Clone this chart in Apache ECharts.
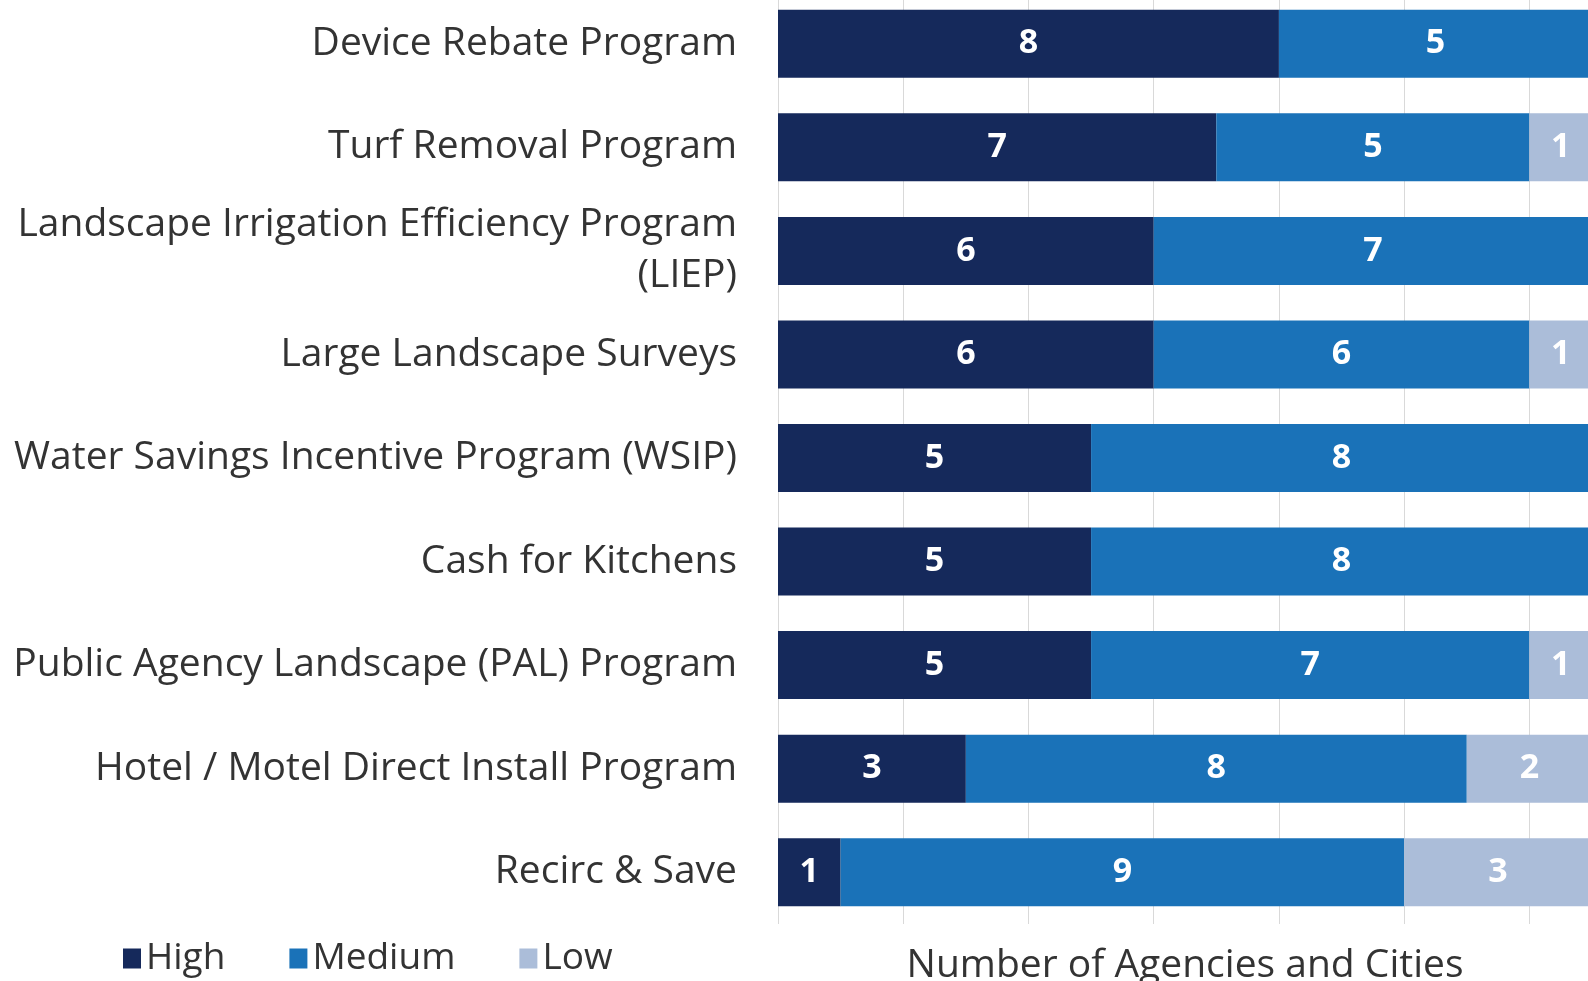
<!DOCTYPE html>
<html>
<head>
<meta charset="utf-8">
<script src="https://cdn.jsdelivr.net/npm/echarts@6/dist/echarts.min.js"></script>
<style>
html, body { margin: 0; padding: 0; background: #fff; }
#chart { width: 1588px; height: 981px; }
</style>
</head>
<body>
<div id="chart"></div>
<script>
// programs, top to bottom
const categories = [
  "Device Rebate Program",
  "Turf Removal Program",
  "Landscape Irrigation Efficiency Program\n(LIEP)",
  "Large Landscape Surveys",
  "Water Savings Incentive Program (WSIP)",
  "Cash for Kitchens",
  "Public Agency Landscape (PAL) Program",
  "Hotel / Motel Direct Install Program",
  "Recirc & Save"
];
const highVals = [8, 7, 6, 6, 5, 5, 5, 3, 1];
const mediumVals = [5, 5, 7, 6, 8, 8, 7, 8, 9];
const lowVals = [0, 1, 0, 1, 0, 0, 1, 2, 3];

const colors = ["#15295b", "#1a72b8", "#abbdd9"];

let myChart = echarts.init(document.getElementById("chart"));

function barSeries(name, data, color) {
  return {
    name: name,
    type: "bar",
    stack: "total",
    data: data,
    barWidth: 68,
    itemStyle: { color: color },
    label: {
      show: true,
      position: "inside",
      color: "#fff",
      fontFamily: "Open Sans",
      fontWeight: "bold",
      fontSize: 34,
      formatter: (p) => (p.value > 0 ? p.value : "")
    }
  };
}

let option = {
  animation: false,
  color: colors,
  textStyle: { fontFamily: "Open Sans" },
  grid: {
    left: 778,
    right: -4,
    top: -8,
    bottom: 57,
    outerBoundsMode: "none"
  },
  legend: {
    left: 118,
    top: 935,
    itemWidth: 18,
    itemHeight: 20,
    itemGap: 64,
    icon: "rect",
    textStyle: { color: "#333", fontSize: 37, fontFamily: "Open Sans", padding: [0, 0, 0, 0] },
    data: ["High", "Medium", "Low"]
  },
  xAxis: {
    type: "value",
    min: 0,
    max: 13,
    interval: 2,
    axisLabel: { show: false },
    axisLine: { show: false },
    axisTick: { show: false },
    splitLine: { show: true, lineStyle: { color: "#d9d9d9", width: 1 } },
    name: "Number of Agencies and Cities",
    nameLocation: "middle",
    nameGap: 22,
    nameTextStyle: { color: "#333", fontSize: 39, fontFamily: "Open Sans" }
  },
  yAxis: {
    type: "category",
    data: categories,
    inverse: true,
    axisLine: { show: false },
    axisTick: { show: false },
    axisLabel: {
      color: "#333",
      fontSize: 39,
      fontFamily: "Open Sans",
      margin: 41,
      align: "right",
      lineHeight: 51
    }
  },
  series: [
    barSeries("High", highVals, colors[0]),
    barSeries("Medium", mediumVals, colors[1]),
    barSeries("Low", lowVals, colors[2])
  ]
};
myChart.setOption(option);
</script>
</body>
</html>
